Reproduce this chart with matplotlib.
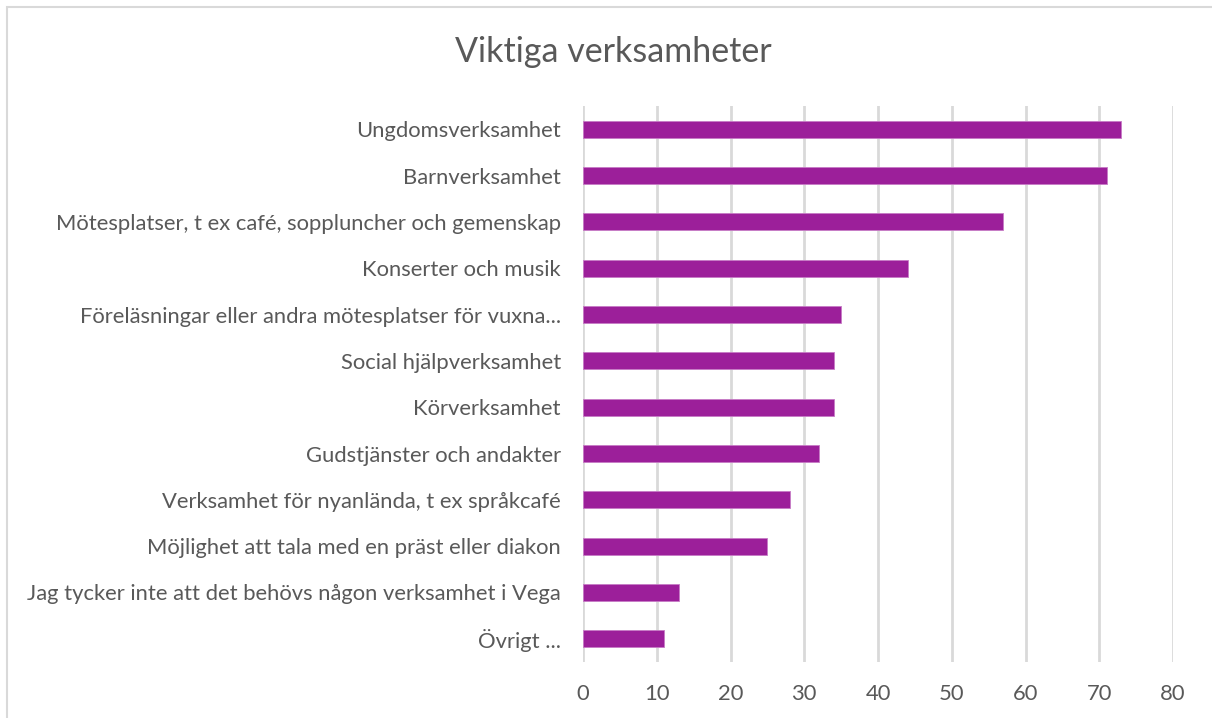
import matplotlib.pyplot as plt
from matplotlib.patches import Rectangle

# data (top to bottom)
categories = [
    'Ungdomsverksamhet',
    'Barnverksamhet',
    'Mötesplatser, t ex café, soppluncher och gemenskap',
    'Konserter och musik',
    'Föreläsningar eller andra mötesplatser för vuxna...',
    'Social hjälpverksamhet',
    'Körverksamhet',
    'Gudstjänster och andakter',
    'Verksamhet för nyanlända, t ex språkcafé',
    'Möjlighet att tala med en präst eller diakon',
    'Jag tycker inte att det behövs någon verksamhet i Vega',
    'Övrigt ...',
]
values = [73, 71, 57, 44, 35, 34, 34, 32, 28, 25, 13, 11]
xticks = [0, 10, 20, 30, 40, 50, 60, 70, 80]

plt.rcParams['font.family'] = ['Lato', 'DejaVu Sans']
text_col = '#595959'
bar_col = '#9C1F9A'
grid_col = '#D9D9D9'

fig = plt.figure(figsize=(12.12, 7.18), dpi=100)
ax = fig.add_axes([583 / 1212, 1 - 662 / 718, 590 / 1212, 556 / 718])

pos = list(range(len(categories)))
ax.barh(pos, values, height=0.36, color=bar_col, edgecolor='#C77BC5', linewidth=0.6, zorder=3)
ax.set_ylim(len(categories) - 0.5, -0.5)
ax.set_xlim(0, 80)
ax.set_xticks(xticks)
ax.set_yticks(pos)
ax.set_yticklabels(categories)
ax.xaxis.grid(True, color=grid_col, linewidth=2, zorder=0)
ax.set_axisbelow(True)
for s in ax.spines.values():
    s.set_visible(False)
ax.tick_params(axis='y', length=0, pad=16, labelsize=15.8, labelcolor=text_col)
ax.tick_params(axis='x', length=0, pad=16, labelsize=15.8, labelcolor=text_col)

fig.text(613 / 1212, 1 - 52 / 718, 'Viktiga verksamheter', ha='center', va='center',
         fontsize=24.5, color=text_col)

# light chart border like the spreadsheet chart area
fig.patches.append(Rectangle((7 / 1212, -0.01), 1.02, 1 - 7 / 718 + 0.01, transform=fig.transFigure,
                             fill=False, edgecolor=grid_col, linewidth=1.5))

fig.savefig('out.png', dpi=100)
